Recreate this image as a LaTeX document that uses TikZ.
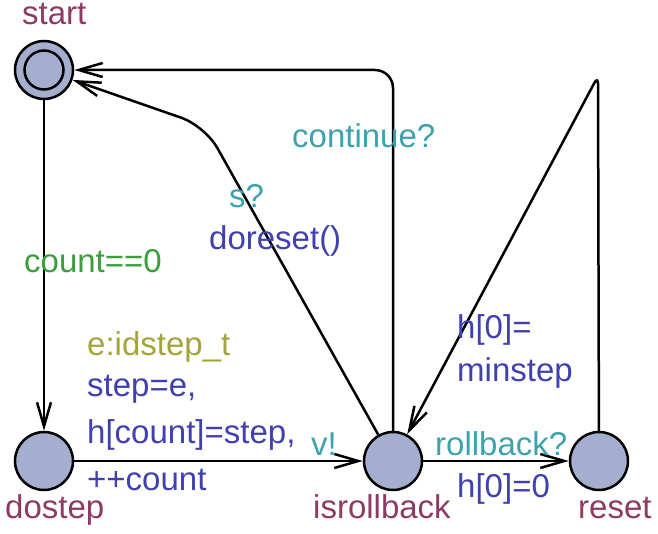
\documentclass[tikz,border=0pt]{standalone}
\usepackage{fontspec}
\setmainfont{Liberation Sans}
\usetikzlibrary{arrows.meta}
\definecolor{locfill}{HTML}{A6AECF}
\definecolor{namecol}{HTML}{8E3A64}
\definecolor{guardcol}{HTML}{3A9E3A}
\definecolor{synccol}{HTML}{3CA2AC}
\definecolor{assigncol}{HTML}{4040B0}
\definecolor{selectcol}{HTML}{A4A43C}
\tikzset{
  loc/.style={circle, draw=black, fill=locfill, line width=2.5pt, minimum size=58pt, inner sep=0pt},
  lbl/.style={anchor=base west, inner sep=0pt, font=\fontsize{33}{40}\selectfont},
  locname/.style={lbl, text=namecol},
  guard/.style={lbl, text=guardcol},
  sync/.style={lbl, text=synccol},
  assign/.style={lbl, text=assigncol},
  select/.style={lbl, text=selectcol},
  edge/.style={draw=black, line width=2.5pt, -{Straight Barb[length=24pt, width=14pt, line width=2.5pt]}},
}
\begin{document}
\begin{tikzpicture}[x=1pt, y=-1pt]
\useasboundingbox (0,0) rectangle (658,534);
% locations
\node[loc] (start) at (44,70) {};
\draw[line width=2.5pt] (start.center) circle (19.5pt);
\node[loc] (dostep) at (44,461) {};
\node[loc] (isrollback) at (393,461) {};
\node[loc] (reset) at (599,461) {};
% names
\node[locname] (nstart) at (22,25) {start};
\node[locname] (ndostep) at (5,518) {dostep};
\node[locname] (nisrollback) at (313,518) {isrollback};
\node[locname] (nreset) at (578,518) {reset};
% nails
\coordinate (n1) at (393,70);
\coordinate (n2) at (205,126);
\coordinate (n3) at (598,76);
% edges
\draw[edge] (start) -- (dostep);
\draw[edge] (dostep) -- (isrollback);
\draw[edge] (isrollback) -- (reset);
\draw[edge, rounded corners=18pt] (isrollback) -- (n1) -- (start);
\draw[edge, rounded corners=25pt] (isrollback) -- (n2) -- (start);
\draw[edge, rounded corners=8pt] (reset) -- (n3) -- (isrollback);
% labels
\node[guard] (g1) at (24,273) {count==0};
\node[select] (s1) at (87,355) {e:idstep\_t};
\node[assign] (a1) at (87,396) {step=e,};
\node[assign] (a2) at (87,443) {h[count]=step,};
\node[assign] (a3) at (87,490) {++count};
\node[sync] (y1) at (311,455) {v!};
\node[sync] (y2) at (435,455) {rollback?};
\node[assign] (a4) at (457,497) {h[0]=0};
\node[sync] (y3) at (292,148) {continue?};
\node[sync] (y4) at (229,208) {s?};
\node[assign] (a5) at (209,250) {doreset()};
\node[assign] (a6) at (457,338) {h[0]=};
\node[assign] (a7) at (457,381) {minstep};
\end{tikzpicture}
\end{document}
